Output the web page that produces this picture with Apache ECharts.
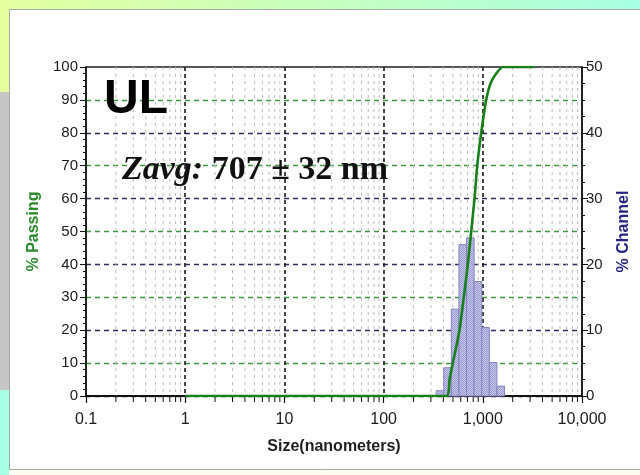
<!DOCTYPE html>
<html>
<head>
<meta charset="utf-8">
<script src="https://cdn.jsdelivr.net/npm/echarts@6/dist/echarts.min.js"></script>
<style>
  html, body { margin: 0; padding: 0; background: #ffffff; }
  #chart { width: 640px; height: 475px; }
</style>
</head>
<body>
<div id="chart"></div>
<script>
// Channel (histogram) bins: edges in nm and % in each channel
const channelEdges = [339, 404, 482, 575, 686, 818, 976, 1164, 1389, 1656];
const channelPct = [0.8, 4.3, 13.2, 23.0, 24.0, 17.4, 10.4, 5.1, 1.5];

// Cumulative % passing curve
const passingSize = [1, 429, 462, 499, 582, 643, 706, 764, 825, 879, 964, 1082, 1196, 1365, 1592, 3320];
const passingPct = [0, 0, 5, 10, 20, 30, 40, 50, 60, 70, 80, 90, 95, 98, 100, 100];

// Size axis tick labels
const sizeTickValues = [0.1, 1, 10, 100, 1000, 10000];
const sizeTickLabels = ['0.1', '1', '10', '100', '1,000', '10,000'];
const decades = [0.1, 1, 10, 100, 1000];
const minorMultipliers = [2, 3, 4, 5, 6, 7, 8, 9];

// Minor log ticks (2..9 within each decade)
const minorValues = [];
decades.forEach(d => minorMultipliers.forEach(m => minorValues.push(+(m * d).toPrecision(3))));

// Stippled fill for the channel bars
const pat = document.createElement('canvas');
pat.width = 2; pat.height = 2;
const pg = pat.getContext('2d');
pg.fillStyle = '#c8c8ec'; pg.fillRect(0, 0, 2, 2);
pg.fillStyle = '#9a9ad2'; pg.fillRect(0, 0, 1, 1); pg.fillRect(1, 1, 1, 1);

const labelFont = "'Liberation Sans', Arial, sans-serif";
const serifFont = "'Liberation Serif', 'Times New Roman', serif";

const chart = echarts.init(document.getElementById('chart'), null, { renderer: 'canvas', devicePixelRatio: 1 });

const option = {
  animation: false,
  backgroundColor: '#ffffff',
  graphic: [
    // outer slide frame
    { type: 'rect', z: -20, shape: { x: 0, y: 0, width: 640, height: 9 },
      style: { fill: new echarts.graphic.LinearGradient(0, 0, 1, 0, [
        { offset: 0, color: '#e4ffa0' }, { offset: 0.5, color: '#c8ffc0' }, { offset: 1, color: '#a8ffe4' }]) } },
    { type: 'rect', z: -20, shape: { x: 0, y: 0, width: 9, height: 92 }, style: { fill: '#e6ff9e' } },
    { type: 'rect', z: -20, shape: { x: 0, y: 92, width: 9, height: 298 }, style: { fill: '#c6c6c6' } },
    { type: 'rect', z: -20, shape: { x: 0, y: 390, width: 9, height: 85 }, style: { fill: '#a6ffe2' } },
    { type: 'rect', z: -19, shape: { x: 9.5, y: 9.5, width: 640, height: 460 },
      style: { fill: '#ffffff', stroke: '#a8a8a8', lineWidth: 1 } },
    { type: 'rect', z: -19, shape: { x: 9, y: 470, width: 631, height: 5 }, style: { fill: '#fbfbf2' } },
    // annotations
    { type: 'text', z: 100, left: 104, top: 76,
      style: { text: 'UL', fill: '#000000', font: "bold 48px 'Liberation Sans', Arial, sans-serif" } },
    { type: 'text', z: 100, left: 122, top: 153,
      style: {
        text: '{i|Zavg:}{b| 707 ± 32 nm}',
        rich: {
          i: { font: 'italic bold 34px ' + serifFont, fill: '#111111' },
          b: { font: 'bold 34px ' + serifFont, fill: '#111111' }
        }
      } }
  ],
  grid: {
    left: 86, right: 57, top: 67, bottom: 79,
    show: true, borderColor: '#222222', borderWidth: 1.5, backgroundColor: 'transparent'
  },
  xAxis: {
    type: 'log', logBase: 10, min: 0.1, max: 10000,
    name: 'Size(nanometers)', nameLocation: 'middle', nameGap: 43,
    nameTextStyle: { color: '#1e1e1e', fontWeight: 'bold', fontSize: 16, fontFamily: labelFont },
    axisLine: { show: true, lineStyle: { color: '#111111', width: 2 } },
    axisTick: { show: true, length: 7, lineStyle: { color: '#111111', width: 1.2 } },
    axisLabel: {
      color: '#1a1a1a', fontSize: 16, fontFamily: labelFont, margin: 16,
      formatter: v => {
        const i = sizeTickValues.findIndex(t => Math.abs(Math.log10(t) - Math.log10(v)) < 1e-6);
        return i >= 0 ? sizeTickLabels[i] : '';
      }
    },
    splitLine: { show: true, showMinLine: false, showMaxLine: false,
      lineStyle: { color: '#1a1a1a', width: 1.6, type: [4, 3] } }
  },
  yAxis: [
    {
      type: 'value', min: 0, max: 100, interval: 10, position: 'left',
      name: '% Passing', nameLocation: 'middle', nameGap: 37, nameRotate: 90,
      nameTextStyle: { color: '#2a8a2a', fontWeight: 'bold', fontSize: 16, fontFamily: labelFont },
      axisLine: { show: true, lineStyle: { color: '#111111', width: 1.5 } },
      axisTick: { show: true, length: 6, lineStyle: { color: '#111111' } },
      minorTick: { show: true, splitNumber: 5, length: 3, lineStyle: { color: '#111111' } },
      axisLabel: { color: '#1a1a1a', fontSize: 15, fontFamily: labelFont, margin: 8 },
      splitLine: { show: true, showMinLine: true, showMaxLine: false,
        lineStyle: { color: ['#2c2c5c', '#3d963d'], width: 1.4, type: [5, 4] } }
    },
    {
      type: 'value', min: 0, max: 50, interval: 10, position: 'right',
      name: '% Channel', nameLocation: 'middle', nameGap: 34, nameRotate: 90,
      nameTextStyle: { color: '#262680', fontWeight: 'bold', fontSize: 16, fontFamily: labelFont },
      axisLine: { show: true, lineStyle: { color: '#111111', width: 1.5 } },
      axisTick: { show: true, length: 6, lineStyle: { color: '#111111' } },
      minorTick: { show: true, splitNumber: 4, length: 3, lineStyle: { color: '#111111' } },
      axisLabel: { color: '#1a1a1a', fontSize: 15, fontFamily: labelFont, margin: 4 },
      splitLine: { show: false }
    }
  ],
  series: [
    {
      // minor log grid lines and ticks
      type: 'custom', xAxisIndex: 0, yAxisIndex: 0, z: 1, silent: true, clip: false,
      data: minorValues.map(v => [v, 0]),
      encode: { x: 0, y: 1 },
      renderItem: (params, api) => {
        const top = api.coord([api.value(0), 100]);
        const bot = api.coord([api.value(0), 0]);
        return {
          type: 'group',
          children: [
            { type: 'line', shape: { x1: top[0], y1: top[1], x2: bot[0], y2: bot[1] },
              style: { stroke: '#bcbcbc', lineWidth: 1, lineDash: [3, 4] } },
            { type: 'line', shape: { x1: bot[0], y1: bot[1], x2: bot[0], y2: bot[1] + 6 },
              style: { stroke: '#111111', lineWidth: 1 } }
          ]
        };
      }
    },
    {
      // % channel histogram
      name: '% Channel', type: 'custom', xAxisIndex: 0, yAxisIndex: 1, z: 3,
      data: channelPct.map((p, i) => [channelEdges[i], channelEdges[i + 1], p]),
      encode: { x: [0, 1], y: 2 },
      renderItem: (params, api) => {
        const a = api.coord([api.value(0), api.value(2)]);
        const b = api.coord([api.value(1), 0]);
        return {
          type: 'rect',
          shape: { x: a[0], y: a[1], width: b[0] - a[0], height: b[1] - a[1] },
          style: { fill: { image: pat, repeat: 'repeat' }, stroke: '#8484c0', lineWidth: 1 }
        };
      }
    },
    {
      // cumulative % passing
      name: '% Passing', type: 'line', xAxisIndex: 0, yAxisIndex: 0, z: 5,
      data: passingSize.map((s, i) => [s, passingPct[i]]),
      showSymbol: false, symbol: 'none', smooth: 0.2,
      lineStyle: { color: '#17801a', width: 2.6 }
    }
  ]
};

chart.setOption(option);
</script>
</body>
</html>
